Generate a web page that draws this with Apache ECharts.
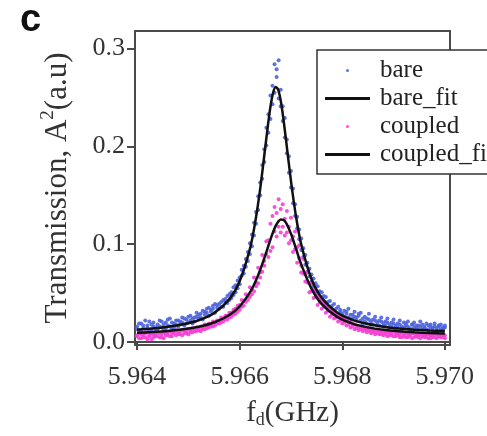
<!DOCTYPE html>
<html><head><meta charset="utf-8">
<script src="https://cdn.jsdelivr.net/npm/echarts@6/dist/echarts.min.js"></script>
<style>html,body{margin:0;padding:0;background:#fff}#c{width:487px;height:436px}</style>
</head><body><div id="c"></div>
<script>
const freqs = [
5.96400,5.96404,5.96408,5.96412,5.96416,5.96420,5.96424,5.96428,5.96432,5.96436,
5.96440,5.96444,5.96448,5.96452,5.96456,5.96460,5.96464,5.96468,5.96472,5.96476,
5.96480,5.96484,5.96488,5.96492,5.96496,5.96500,5.96504,5.96508,5.96512,5.96516,
5.96520,5.96524,5.96528,5.96532,5.96536,5.96540,5.96544,5.96548,5.96552,5.96556,
5.96560,5.96564,5.96568,5.96572,5.96576,5.96580,5.96584,5.96588,5.96592,5.96596,
5.96600,5.96604,5.96608,5.96612,5.96616,5.96620,5.96624,5.96628,5.96632,5.96636,
5.96640,5.96644,5.96648,5.96652,5.96656,5.96660,5.96664,5.96668,5.96672,5.96676,
5.96680,5.96684,5.96688,5.96692,5.96696,5.96700,5.96704,5.96708,5.96712,5.96716,
5.96720,5.96724,5.96728,5.96732,5.96736,5.96740,5.96744,5.96748,5.96752,5.96756,
5.96760,5.96764,5.96768,5.96772,5.96776,5.96780,5.96784,5.96788,5.96792,5.96796,
5.96800,5.96804,5.96808,5.96812,5.96816,5.96820,5.96824,5.96828,5.96832,5.96836,
5.96840,5.96844,5.96848,5.96852,5.96856,5.96860,5.96864,5.96868,5.96872,5.96876,
5.96880,5.96884,5.96888,5.96892,5.96896,5.96900,5.96904,5.96908,5.96912,5.96916,
5.96920,5.96924,5.96928,5.96932,5.96936,5.96940,5.96944,5.96948,5.96952,5.96956,
5.96960,5.96964,5.96968,5.96972,5.96976,5.96980,5.96984,5.96988,5.96992,5.96996,
5.97000];
// bare resonator, two sweeps
const bare = [
0.016,0.012,0.019,0.014,0.010,0.017,0.021,0.013,0.016,0.011,
0.018,0.022,0.015,0.013,0.020,0.017,0.024,0.014,0.019,0.022,
0.016,0.021,0.025,0.017,0.023,0.020,0.027,0.019,0.025,0.030,
0.024,0.029,0.023,0.031,0.034,0.027,0.033,0.037,0.030,0.038,
0.034,0.041,0.036,0.044,0.040,0.049,0.045,0.056,0.051,0.063,
0.059,0.074,0.070,0.085,0.083,0.101,0.098,0.122,0.121,0.149,
0.150,0.181,0.184,0.219,0.214,0.252,0.243,0.284,0.271,0.288,
0.258,0.226,0.229,0.193,0.190,0.158,0.157,0.129,0.128,0.105,
0.106,0.087,0.089,0.072,0.075,0.062,0.065,0.052,0.057,0.046,
0.051,0.040,0.046,0.036,0.042,0.032,0.039,0.029,0.036,0.033,
0.025,0.032,0.029,0.034,0.023,0.028,0.031,0.022,0.027,0.030,
0.019,0.026,0.024,0.029,0.018,0.023,0.026,0.017,0.022,0.025,
0.016,0.021,0.024,0.015,0.020,0.023,0.014,0.019,0.022,0.013,
0.020,0.017,0.021,0.012,0.018,0.020,0.014,0.017,0.021,0.013,
0.016,0.019,0.012,0.018,0.015,0.019,0.011,0.016,0.018,0.013,
0.015];
const bare2 = [
0.013,0.019,0.011,0.017,0.022,0.014,0.012,0.018,0.020,0.015,
0.013,0.016,0.021,0.018,0.014,0.023,0.016,0.020,0.015,0.018,
0.022,0.018,0.020,0.024,0.019,0.026,0.022,0.024,0.021,0.026,
0.028,0.025,0.032,0.028,0.030,0.035,0.031,0.034,0.039,0.035,
0.039,0.036,0.043,0.041,0.047,0.043,0.051,0.048,0.058,0.055,
0.066,0.068,0.078,0.077,0.092,0.090,0.110,0.109,0.133,0.135,
0.163,0.167,0.197,0.201,0.233,0.228,0.262,0.255,0.279,0.249,
0.241,0.241,0.209,0.207,0.173,0.175,0.142,0.141,0.116,0.115,
0.094,0.096,0.079,0.081,0.067,0.069,0.057,0.060,0.050,0.052,
0.043,0.047,0.038,0.041,0.034,0.037,0.030,0.034,0.028,0.031,
0.029,0.026,0.031,0.025,0.028,0.024,0.026,0.025,0.029,0.022,
0.024,0.021,0.019,0.023,0.021,0.018,0.022,0.020,0.017,0.021,
0.019,0.017,0.020,0.018,0.016,0.019,0.017,0.015,0.018,0.016,
0.015,0.019,0.016,0.014,0.018,0.015,0.017,0.013,0.016,0.018,
0.014,0.013,0.017,0.015,0.012,0.016,0.014,0.017,0.013,0.015,
0.017];
// coupled resonator, two sweeps
const coupled = [
0.006,0.009,0.004,0.008,0.005,0.010,0.006,0.003,0.008,0.006,
0.010,0.005,0.008,0.004,0.009,0.007,0.011,0.006,0.009,0.012,
0.008,0.011,0.007,0.012,0.009,0.013,0.010,0.014,0.011,0.015,
0.012,0.016,0.013,0.018,0.014,0.019,0.016,0.021,0.017,0.022,
0.019,0.025,0.021,0.027,0.023,0.030,0.026,0.033,0.029,0.037,
0.033,0.043,0.037,0.049,0.043,0.056,0.049,0.066,0.057,0.076,
0.066,0.089,0.078,0.103,0.087,0.121,0.097,0.138,0.108,0.146,
0.112,0.141,0.109,0.134,0.101,0.127,0.092,0.113,0.081,0.099,
0.071,0.085,0.062,0.072,0.051,0.060,0.045,0.053,0.038,0.046,
0.034,0.041,0.030,0.036,0.026,0.032,0.024,0.029,0.021,0.026,
0.019,0.024,0.017,0.021,0.015,0.019,0.013,0.017,0.012,0.016,
0.011,0.015,0.010,0.014,0.009,0.013,0.008,0.012,0.008,0.011,
0.007,0.011,0.006,0.010,0.007,0.011,0.006,0.009,0.005,0.010,
0.006,0.009,0.005,0.008,0.004,0.009,0.006,0.008,0.004,0.009,
0.005,0.008,0.004,0.007,0.005,0.009,0.004,0.007,0.005,0.008,
0.004];
const coupled2 = [
0.007,0.004,0.008,0.005,0.009,0.003,0.007,0.009,0.005,0.008,
0.006,0.009,0.005,0.010,0.007,0.010,0.006,0.009,0.011,0.007,
0.010,0.008,0.012,0.009,0.011,0.008,0.012,0.010,0.013,0.011,
0.014,0.011,0.015,0.013,0.017,0.015,0.018,0.016,0.020,0.019,
0.022,0.020,0.024,0.023,0.027,0.025,0.030,0.028,0.034,0.031,
0.038,0.036,0.042,0.041,0.047,0.046,0.054,0.052,0.061,0.060,
0.071,0.072,0.083,0.090,0.104,0.093,0.129,0.113,0.132,0.118,
0.136,0.118,0.126,0.112,0.118,0.104,0.108,0.095,0.097,0.086,
0.078,0.070,0.069,0.061,0.060,0.052,0.054,0.046,0.048,0.041,
0.041,0.036,0.037,0.032,0.033,0.028,0.030,0.025,0.027,0.022,
0.024,0.020,0.022,0.018,0.020,0.016,0.018,0.014,0.016,0.013,
0.015,0.012,0.013,0.011,0.012,0.010,0.012,0.009,0.011,0.008,
0.010,0.008,0.010,0.007,0.009,0.006,0.009,0.007,0.008,0.005,
0.008,0.005,0.008,0.006,0.009,0.005,0.007,0.005,0.008,0.006,
0.007,0.005,0.008,0.004,0.007,0.005,0.008,0.006,0.007,0.005,
0.007];
const fitFreqs = [5.9640,5.9643,5.9646,5.9649,5.9652,5.9655,5.9658,5.9660,5.9662,5.9663,5.9664,5.9665,5.96655,5.9666,5.96665,5.9667,5.96675,5.9668,5.96685,5.9669,5.9670,5.9671,5.9672,5.9674,5.9676,5.9679,5.9682,5.9685,5.9688,5.9691,5.9694,5.9697,5.9700];
const bareFit = [0.0126,0.0138,0.0156,0.0182,0.0223,0.0296,0.0439,0.0621,0.0952,0.1216,0.1566,0.1994,0.2211,0.2405,0.2545,0.2608,0.2581,0.2469,0.2293,0.2082,0.1648,0.1278,0.0999,0.0645,0.0453,0.0303,0.0227,0.0184,0.0157,0.0139,0.0127,0.0118,0.0112];
const coupledFit = [0.0094,0.0102,0.0113,0.0130,0.0156,0.0200,0.0277,0.0365,0.0508,0.0610,0.0737,0.0887,0.0968,0.1048,0.1122,0.1185,0.1230,0.1253,0.1250,0.1223,0.1108,0.0952,0.0794,0.0546,0.0388,0.0257,0.0189,0.0150,0.0126,0.0111,0.0100,0.0092,0.0087];
const xTicks = [5.964, 5.966, 5.968, 5.970];
const yTicks = [0.0, 0.1, 0.2, 0.3];

const zip = (xs, ys) => xs.map((x, i) => [x, ys[i]]);
const serif = '"Liberation Serif","Times New Roman",serif';
const axisColor = '#4a4a4a';
const chart = echarts.init(document.getElementById('c'), null, {renderer: 'canvas'});
chart.setOption({
  animation: false,
  backgroundColor: '#fff',
  grid: {left: 135, top: 31, width: 315, height: 314, show: true, borderColor: axisColor, borderWidth: 2, backgroundColor: 'transparent'},
  xAxis: {
    type: 'value', min: 5.96396, max: 5.9701,
    axisLine: {lineStyle: {color: axisColor, width: 2}},
    axisTick: {customValues: xTicks, length: 8, lineStyle: {color: axisColor, width: 2}},
    axisLabel: {customValues: xTicks, formatter: v => v.toFixed(3), fontFamily: serif, fontSize: 26, color: '#333', margin: 19},
    splitLine: {show: false},
    name: 'f{sub|d}(GHz)', nameLocation: 'middle', nameGap: 52,
    nameTextStyle: {fontFamily: serif, fontSize: 29, color: '#333', rich: {sub: {fontFamily: serif, fontSize: 18, color: '#333', padding: [14, 0, 0, 0]}}}
  },
  yAxis: {
    type: 'value', min: -0.003, max: 0.318,
    axisLine: {lineStyle: {color: axisColor, width: 2}},
    axisTick: {customValues: yTicks, length: 8, lineStyle: {color: axisColor, width: 2}},
    axisLabel: {customValues: yTicks, formatter: v => v.toFixed(1), fontFamily: serif, fontSize: 26, color: '#333', margin: 10},
    splitLine: {show: false},
    name: 'Transmission, A{sup|2}(a.u)', nameLocation: 'middle', nameGap: 59,
    nameTextStyle: {fontFamily: serif, fontSize: 31, color: '#333', rich: {sup: {fontFamily: serif, fontSize: 19, color: '#333', padding: [0, 0, 18, 0]}}}
  },
  legend: {
    orient: 'vertical', left: 317, top: 50, padding: [8, 8, 7, 8], itemGap: 3,
    itemWidth: 45, itemHeight: 3, backgroundColor: '#fff', borderColor: '#333', borderWidth: 1.5,
    textStyle: {fontFamily: serif, fontSize: 25, color: '#222', padding: [0, 0, 0, 5]},
    data: [
      {name: 'bare', icon: 'circle'},
      {name: 'bare_fit', icon: 'rect', itemStyle: {color: '#111'}},
      {name: 'coupled', icon: 'circle'},
      {name: 'coupled_fit', icon: 'rect', itemStyle: {color: '#111'}}
    ]
  },
  graphic: [{type: 'text', left: 20, top: 2, style: {text: 'c', font: 'bold 38px "Liberation Sans", Arial, sans-serif', fill: '#111'}}],
  series: [
    {name: 'bare', type: 'scatter', data: zip(freqs, bare).concat(zip(freqs, bare2)), symbolSize: 4, itemStyle: {color: '#4d63dd', opacity: 0.9}, z: 2},
    {name: 'coupled', type: 'scatter', data: zip(freqs, coupled).concat(zip(freqs, coupled2)), symbolSize: 4, itemStyle: {color: '#f53fd4', opacity: 0.9}, z: 3},
    {name: 'bare_fit', type: 'line', data: zip(fitFreqs, bareFit), symbol: 'none', smooth: 0.3, itemStyle: {color: '#111'}, lineStyle: {color: '#111', width: 2.5}, z: 4},
    {name: 'coupled_fit', type: 'line', data: zip(fitFreqs, coupledFit), symbol: 'none', smooth: 0.3, itemStyle: {color: '#111'}, lineStyle: {color: '#111', width: 2.5}, z: 4}
  ]
});
</script></body></html>
